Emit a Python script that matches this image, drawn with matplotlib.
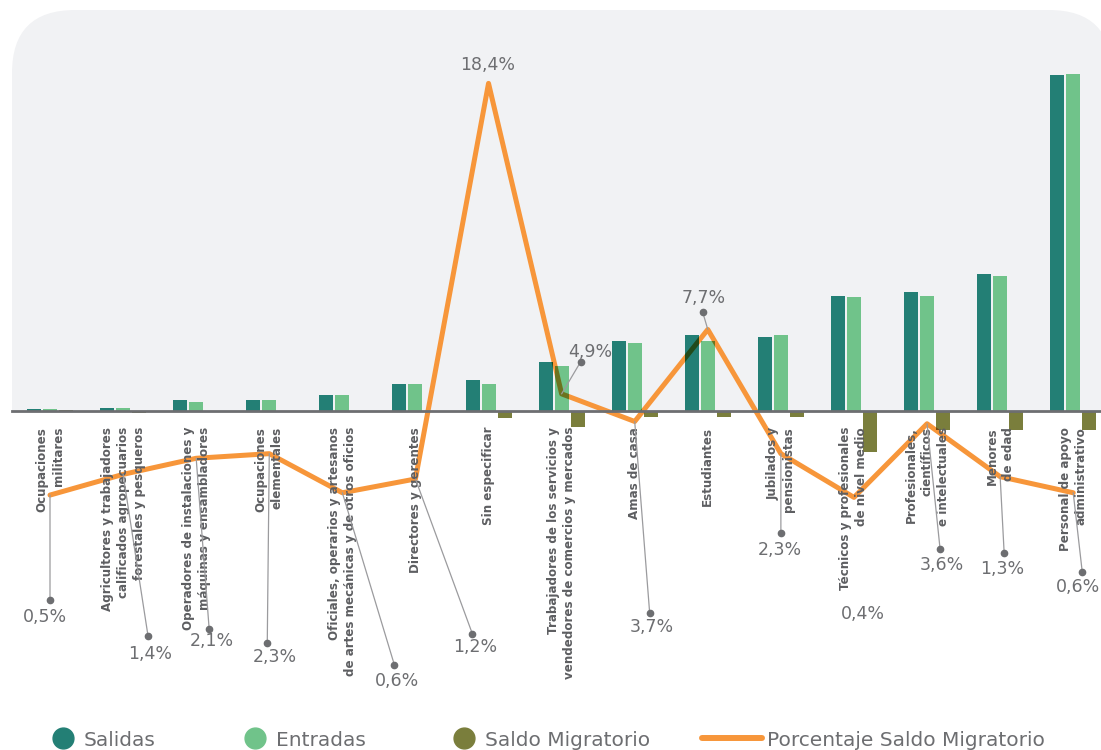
import matplotlib
matplotlib.use("Agg")
import matplotlib.pyplot as plt
import numpy as np
from matplotlib.colors import to_rgb
from matplotlib.patches import FancyBboxPatch
from matplotlib.transforms import IdentityTransform, Bbox, offset_copy
from matplotlib.lines import Line2D

# ---- data ----
categorias = [
    "Ocupaciones\nmilitares",
    "Agricultores y trabajadores\ncalificados agropecuarios\nforestales y pesqueros",
    "Operadores de instalaciones y\nmáquinas y ensambladores",
    "Ocupaciones\nelementales",
    "Oficiales, operarios y artesanos\nde artes mecánicas y de otros oficios",
    "Directores y gerentes",
    "Sin especificar",
    "Trabajadores de los servicios y\nvendedores de comercios y mercados",
    "Amas de casa",
    "Estudiantes",
    "Jubilados y\npensionistas",
    "Técnicos y profesionales\nde nivel medio",
    "Profesionales,\ncientíficos\ne intelectuales",
    "Menores\nde edad",
    "Personal de apoyo\nadministrativo",
]
salidas = [0.2, 0.3, 1.1, 1.1, 1.6, 2.7, 3.1, 4.9, 7.0, 7.6, 7.4, 11.5, 11.9, 13.7, 33.6]
entradas = [0.2, 0.3, 0.9, 1.1, 1.6, 2.7, 2.7, 4.5, 6.8, 7.0, 7.6, 11.4, 11.5, 13.5, 33.7]
saldo = [0.1, -0.2, -0.1, -0.1, -0.1, -0.1, -0.7, -1.6, -0.6, -0.6, -0.6, -4.1, -1.9, -1.9, -1.9]
porcentaje = [0.5, 1.4, 2.1, 2.3, 0.6, 1.2, 18.4, 4.9, 3.7, 7.7, 2.3, 0.4, 3.6, 1.3, 0.6]

# label placement (pixels from the line point, y down): dot dx, dot dy, text dx, text dy
dot_off = [(0, 105), (25, 162), (13, 171), (-2, 189), (52, 172), (57, 155), None,
           (19, -32), (15, 192), (-5, -17), (0, 79), None, (13, 125), (4, 76), (9, 79)]
txt_off = [(-5, 122), (27, 180), (16, 183), (6, 203), (55, 188), (60, 168), (-1, -18),
           (29, -42), (17, 206), (-4, -31), (-1, 96), (9, 117), (15, 141), (2, 92), (5, 94)]

C_SAL = "#237f75"
C_ENT = "#70c38a"
C_SALDO = "#7a7e3c"
C_LINE = "#f7963a"
C_PANEL = "#f1f2f4"
C_TEXT = "#6d6e71"

W, H = 1101, 750
fig = plt.figure(figsize=(W / 100, H / 100), dpi=100)

# rounded grey panel behind the bars (only above the baseline)
panel = FancyBboxPatch((12, H - 411 - 80), 1100, 411 - 10 + 80,
                       boxstyle="round,pad=0,rounding_size=63",
                       transform=IdentityTransform(), facecolor=C_PANEL,
                       edgecolor="none", zorder=-1)
fig.add_artist(panel)
panel.set_clip_box(Bbox.from_extents(0, H - 411, W, H))

ax = fig.add_axes([12 / W, 50 / H, 1089 / W, 690 / H])
ax2 = ax.twinx()
ax.set_zorder(2)
ax2.set_zorder(1)
ax.patch.set_visible(False)
ax2.patch.set_visible(False)

x = np.arange(len(categorias))
bw = 0.192
step = 0.219

# line on the secondary axis
ax2.plot(x, porcentaje, color=C_LINE, lw=3.6, solid_joinstyle="round",
         solid_capstyle="round")

b1 = ax.bar(x - step, salidas, bw, color=C_SAL, zorder=1)
b2 = ax.bar(x, entradas, bw, color=C_ENT, zorder=1)
b3 = ax.bar(x + step, saldo, bw, color=C_SALDO, zorder=1)

# line seen through the bars (multiply look)
for bars, col in [(b1, C_SAL), (b2, C_ENT), (b3, C_SALDO)]:
    mix = tuple(np.array(to_rgb(C_LINE)) * np.array(to_rgb(col)))
    for bar in bars:
        ov, = ax.plot(x, porcentaje, transform=ax2.transData, color=mix, lw=3.6,
                      solid_joinstyle="round", solid_capstyle="round", zorder=1.5)
        ov.set_clip_path(bar)

# percentage labels with leaders
for i, p in enumerate(porcentaje):
    lab = f"{p:.1f}".replace(".", ",") + "%"
    if dot_off[i] is not None:
        dx, dy = dot_off[i]
        ax.annotate("", xy=(x[i], p), xycoords=ax2.transData,
                    xytext=(dx, -dy), textcoords="offset pixels",
                    arrowprops=dict(arrowstyle="-", color="#9b9b9e", lw=0.9,
                                    shrinkA=0, shrinkB=0), zorder=3)
        ax.plot([x[i]], [p], marker="o", ms=4.5, color=C_TEXT, clip_on=False,
                transform=offset_copy(ax2.transData, fig=fig, x=dx, y=-dy, units="dots"),
                zorder=3)
    tx, ty = txt_off[i]
    ax.annotate(lab, xy=(x[i], p), xycoords=ax2.transData,
                xytext=(tx, -ty), textcoords="offset pixels",
                ha="center", va="center", fontsize=12.5, color=C_TEXT, zorder=3)

# axes styling
ax.set_xlim(-0.52, 14.38)
ax.set_ylim(-28.9, 40.1)
ax2.set_ylim(-8.41, 21.59)
for s in ["top", "left", "right"]:
    ax.spines[s].set_visible(False)
ax.spines["bottom"].set_position(("data", 0))
ax.spines["bottom"].set_color(C_TEXT)
ax.spines["bottom"].set_linewidth(2)
ax.set_yticks([])
ax.set_xticks(x)
ax.set_xticklabels(categorias, rotation=90, fontsize=8.6, fontweight="bold",
                   color="#5d5e61", linespacing=1.3, multialignment="right")
ax.tick_params(axis="x", length=0, pad=11.5)
ax2.axis("off")

# legend
h1 = [Line2D([], [], ls="none", marker="o", ms=15, color=c) for c in (C_SAL, C_ENT, C_SALDO)]
leg1 = fig.legend(h1, ["Salidas", "Entradas", "Saldo Migratorio"], ncol=3,
                  loc="center left", bbox_to_anchor=(53 / W, 10 / H),
                  frameon=False, fontsize=14.5, labelcolor=C_TEXT, handlelength=1.0,
                  handletextpad=0.54, columnspacing=4.4, borderpad=0, borderaxespad=0)
h2 = [Line2D([], [], color=C_LINE, lw=4.3, solid_capstyle="round")]
leg2 = fig.legend(h2, ["Porcentaje Saldo Migratorio"], loc="center left",
                  bbox_to_anchor=(702 / W, 10 / H), frameon=False, fontsize=14.5,
                  labelcolor=C_TEXT, handlelength=3.0, handletextpad=0.25,
                  borderpad=0, borderaxespad=0)

fig.savefig("out.png", dpi=100)
